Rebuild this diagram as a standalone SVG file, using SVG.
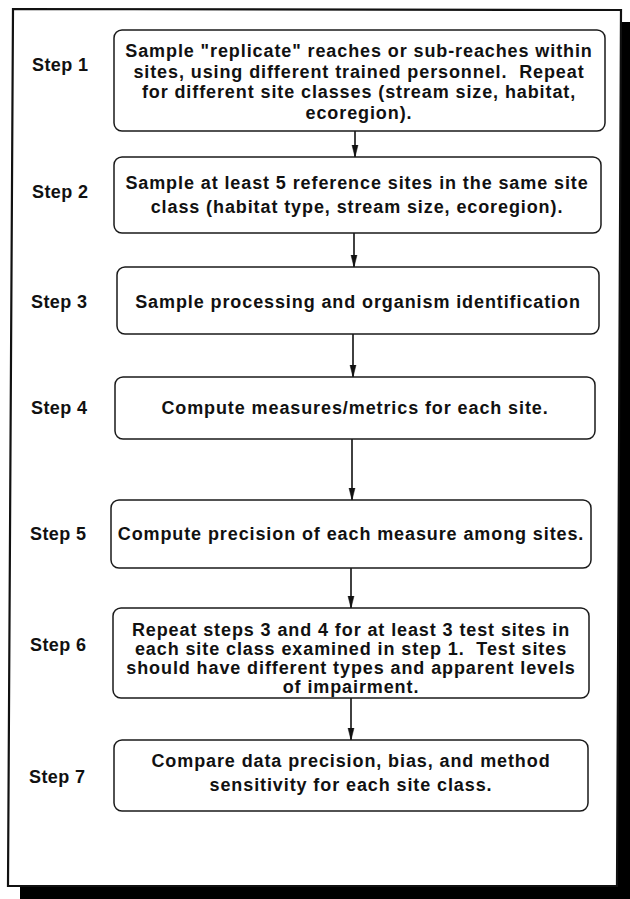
<svg xmlns="http://www.w3.org/2000/svg" width="630" height="899" viewBox="0 0 630 899">
<style>
  .box { fill: #ffffff; stroke: #1a1a1a; stroke-width: 1.5; }
  .txt { font-family: "Liberation Sans", Arial, sans-serif; font-weight: bold; font-size: 18px; letter-spacing: 0.9px; fill: #111; text-anchor: middle; }
  .lbl { font-family: "Liberation Sans", Arial, sans-serif; font-weight: bold; font-size: 18px; letter-spacing: 0.4px; fill: #111; }
  .conn { stroke: #111; stroke-width: 1.6; fill: none; }
</style>
<defs>
  <marker id="arrow" markerUnits="userSpaceOnUse" markerWidth="12" markerHeight="20" refX="18" refY="5" viewBox="0 0 18 10" orient="auto">
    <path d="M0,0.5 L18,5 L0,9.5 Z" fill="#111" stroke="#111" stroke-width="0.8"/>
  </marker>
</defs>
<rect x="0" y="0" width="630" height="899" fill="#ffffff"/>
<g id="frame">
  <polygon points="621,22 630,22 630,899 20,899 20,887 617,887" fill="#000"/>
  <polygon points="13,9 621,10 617,886 8,886" fill="none" stroke="#111" stroke-width="2.2"/>
</g>
<g id="connectors">
  <line class="conn" x1="355" y1="131" x2="355" y2="157" marker-end="url(#arrow)"/>
  <line class="conn" x1="354" y1="233" x2="354" y2="267" marker-end="url(#arrow)"/>
  <line class="conn" x1="353" y1="334" x2="353" y2="377" marker-end="url(#arrow)"/>
  <line class="conn" x1="352" y1="439" x2="352" y2="500" marker-end="url(#arrow)"/>
  <line class="conn" x1="351" y1="568" x2="351" y2="608" marker-end="url(#arrow)"/>
  <line class="conn" x1="351" y1="698" x2="351" y2="740" marker-end="url(#arrow)"/>
</g>
<g id="step1">
  <text class="lbl" x="32" y="71">Step 1</text>
  <rect class="box" x="114" y="30" width="491" height="101" rx="8"/>
  <text class="txt" x="359" y="57">Sample "replicate" reaches or sub-reaches within</text>
  <text class="txt" x="359" y="78" xml:space="preserve">sites, using different trained personnel.  Repeat</text>
  <text class="txt" x="359" y="98">for different site classes (stream size, habitat,</text>
  <text class="txt" x="359" y="119">ecoregion).</text>
</g>
<g id="step2">
  <text class="lbl" x="32" y="198">Step 2</text>
  <rect class="box" x="114" y="157" width="487" height="76" rx="8"/>
  <text class="txt" x="357" y="189">Sample at least 5 reference sites in the same site</text>
  <text class="txt" x="357" y="213">class (habitat type, stream size, ecoregion).</text>
</g>
<g id="step3">
  <text class="lbl" x="31" y="308">Step 3</text>
  <rect class="box" x="117" y="267" width="482" height="67" rx="8"/>
  <text class="txt" x="358" y="308">Sample processing and organism identification</text>
</g>
<g id="step4">
  <text class="lbl" x="31" y="414">Step 4</text>
  <rect class="box" x="115" y="377" width="480" height="62" rx="8"/>
  <text class="txt" x="355" y="414">Compute measures/metrics for each site.</text>
</g>
<g id="step5">
  <text class="lbl" x="30" y="540">Step 5</text>
  <rect class="box" x="111" y="500" width="480" height="68" rx="8"/>
  <text class="txt" x="351" y="540">Compute precision of each measure among sites.</text>
</g>
<g id="step6">
  <text class="lbl" x="30" y="651">Step 6</text>
  <rect class="box" x="113" y="608" width="476" height="90" rx="8"/>
  <text class="txt" x="351" y="636">Repeat steps 3 and 4 for at least 3 test sites in</text>
  <text class="txt" x="351" y="655" xml:space="preserve">each site class examined in step 1.  Test sites</text>
  <text class="txt" x="351" y="674">should have different types and apparent levels</text>
  <text class="txt" x="351" y="693">of impairment.</text>
</g>
<g id="step7">
  <text class="lbl" x="29" y="783">Step 7</text>
  <rect class="box" x="114" y="740" width="474" height="71" rx="8"/>
  <text class="txt" x="351" y="767">Compare data precision, bias, and method</text>
  <text class="txt" x="351" y="791">sensitivity for each site class.</text>
</g>
</svg>
